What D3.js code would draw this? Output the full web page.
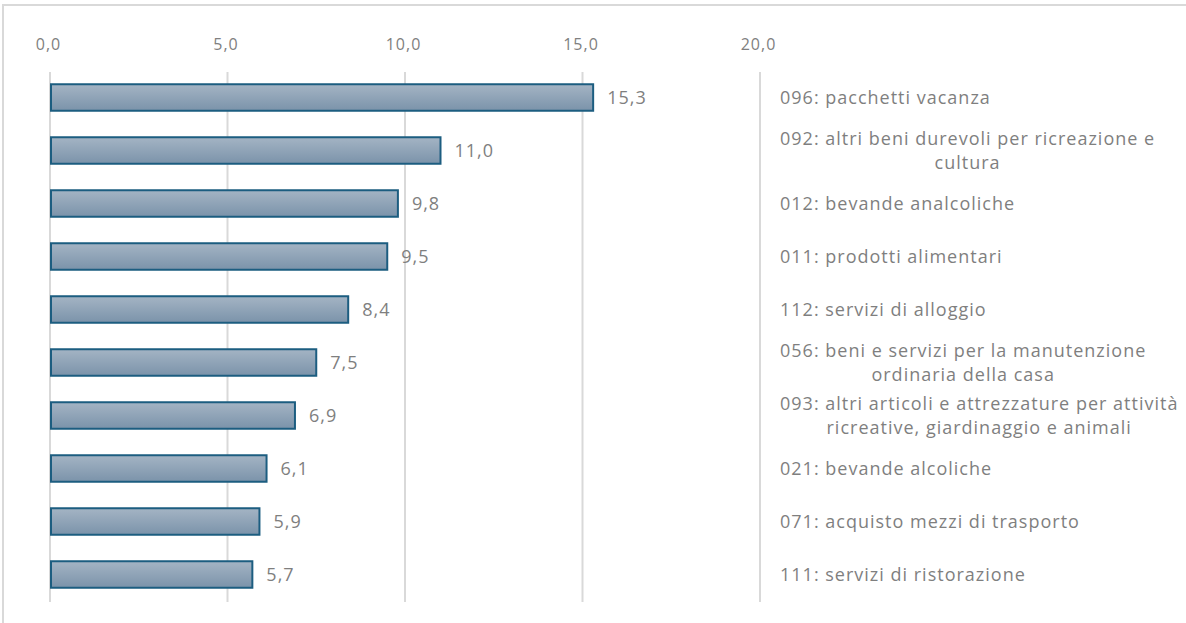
<!DOCTYPE html>
<html lang="it">
<head>
<meta charset="UTF-8">
<title>Chart</title>
<script src="https://d3js.org/d3.v7.min.js"></script>
<style>
  body { margin: 0; background: #fff; }
  text { font-family: "Open Sans", "Noto Sans", sans-serif; letter-spacing: 1px; }
</style>
</head>
<body>
<script>
    var categories = [
        ["096: pacchetti vacanza"],
        ["092: altri beni durevoli per ricreazione e", "cultura"],
        ["012: bevande analcoliche"],
        ["011: prodotti alimentari"],
        ["112: servizi di alloggio"],
        ["056: beni e servizi per la manutenzione", "ordinaria della casa"],
        ["093: altri articoli e attrezzature per attività", "ricreative, giardinaggio e animali"],
        ["021: bevande alcoliche"],
        ["071: acquisto mezzi di trasporto"],
        ["111: servizi di ristorazione"]
    ];
    var values = [15.3, 11.0, 9.8, 9.5, 8.4, 7.5, 6.9, 6.1, 5.9, 5.7];
    var ticks = [0, 5, 10, 15, 20];

    var width = 1186, height = 623;
    var it = d3.formatLocale({decimal: ",", thousands: ".", grouping: [3], currency: ["€", ""]});
    var fmt = it.format(".1f");

    var svg = d3.select("body").append("svg")
        .attr("width", width)
        .attr("height", height);

    // frame
    svg.append("path")
        .attr("d", "M3,640 L3,5 L1190,5")
        .attr("fill", "none")
        .attr("stroke", "#d9d9d9")
        .attr("stroke-width", 2);

    var defs = svg.append("defs");
    var grad = defs.append("linearGradient")
        .attr("id", "barGrad")
        .attr("x1", 0).attr("y1", 0).attr("x2", 0).attr("y2", 1);
    grad.append("stop").attr("offset", "0%").attr("stop-color", "#a4b4c4");
    grad.append("stop").attr("offset", "100%").attr("stop-color", "#7b93aa");

    var x = d3.scaleLinear().domain([0, 20]).range([50, 760]);
    var y = d3.scaleBand()
        .domain(d3.range(categories.length))
        .range([71, 601])
        .paddingInner(0.5)
        .paddingOuter(0.25);

    // gridlines
    svg.append("g").selectAll("line")
        .data(ticks)
        .join("line")
        .attr("x1", function (d) { return x(d); })
        .attr("x2", function (d) { return x(d); })
        .attr("y1", 72)
        .attr("y2", 602)
        .attr("stroke", "#d9d9d9")
        .attr("stroke-width", 2);

    // axis labels on top
    var xAxis = d3.axisTop(x).tickValues(ticks).tickSize(0).tickPadding(0).tickFormat(fmt);
    var gAxis = svg.append("g")
        .attr("transform", "translate(-2,50)")
        .call(xAxis);
    gAxis.select(".domain").remove();
    gAxis.selectAll("text")
        .attr("fill", "#808080")
        .attr("font-size", "16px");

    // bars
    svg.append("g").selectAll("rect")
        .data(values)
        .join("rect")
        .attr("x", x(0) + 1)
        .attr("y", function (d, i) { return y(i); })
        .attr("width", function (d) { return x(d) - x(0) - 1; })
        .attr("height", y.bandwidth())
        .attr("fill", "url(#barGrad)")
        .attr("stroke", "#1c5d80")
        .attr("stroke-width", 2);

    // value labels
    svg.append("g").selectAll("text")
        .data(values)
        .join("text")
        .attr("x", function (d) { return x(d) + 14; })
        .attr("y", function (d, i) { return y(i) + y.bandwidth() / 2; })
        .attr("dy", "0.35em")
        .attr("fill", "#7f7f7f")
        .attr("font-size", "18px")
        .text(function (d) { return fmt(d); });

    // category labels
    var gCat = svg.append("g");
    categories.forEach(function (lines, i) {
        var cy = y(i) + y.bandwidth() / 2;
        var lh = 24;
        var top = cy - (lines.length - 1) * lh / 2;
        var first = gCat.append("text")
            .attr("x", 780)
            .attr("y", top)
            .attr("dy", "0.35em")
            .attr("fill", "#7f7f7f")
            .attr("font-size", "18px")
            .text(lines[0]);
        var w = first.node().getComputedTextLength();
        for (var k = 1; k < lines.length; k++) {
            gCat.append("text")
                .attr("x", 780 + w / 2)
                .attr("y", top + k * lh)
                .attr("dy", "0.35em")
                .attr("text-anchor", "middle")
                .attr("fill", "#7f7f7f")
                .attr("font-size", "18px")
                .text(lines[k]);
        }
    });
</script>
</body>
</html>
